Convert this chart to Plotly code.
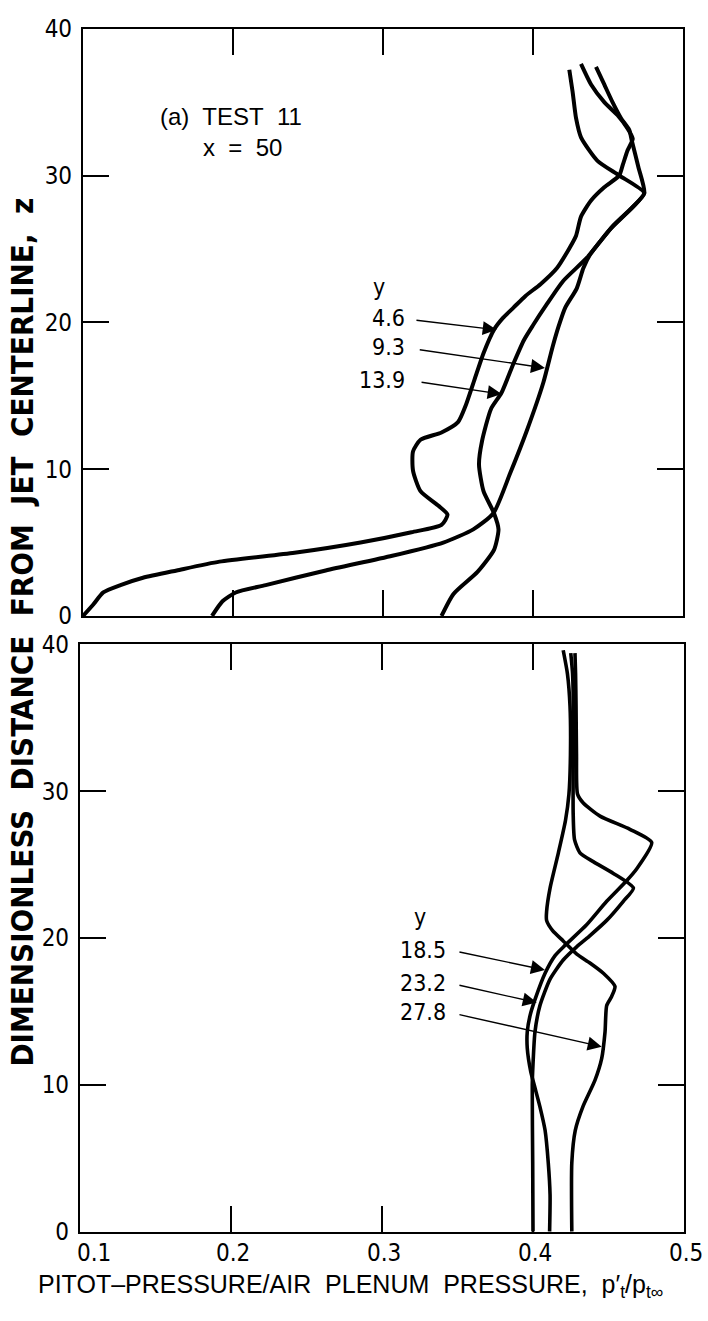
import plotly.graph_objects as go

W, H = 708, 1321
FONT = "DejaVu Sans Condensed, DejaVu Sans, sans-serif"
FONT_WIDE = "Liberation Sans, Arial, Helvetica, sans-serif"

# ---- (a) TEST 11, x = 50 : upper panel profiles ----
top_y_labels = ["4.6", "9.3", "13.9"]

p_46 = [0.100, 0.107, 0.1135, 0.125, 0.140, 0.1625, 0.191, 0.241, 0.285, 0.319, 0.339, 0.343,
        0.337, 0.325, 0.320, 0.320, 0.325, 0.339, 0.350, 0.355, 0.361, 0.367, 0.374, 0.380,
        0.387, 0.395, 0.405, 0.416, 0.424, 0.4287, 0.432, 0.4387, 0.4475, 0.4575, 0.4598,
        0.463, 0.4665, 0.463, 0.4564, 0.4475, 0.4387, 0.432]
z_46 = [0.0, 0.8, 1.6, 2.1, 2.6, 3.1, 3.7, 4.3, 5.0, 5.7, 6.2, 6.9,
        7.5, 8.5, 9.9, 11.2, 12.0, 12.5, 13.2, 14.3, 16.1, 17.9, 19.5, 20.3,
        21.0, 21.8, 22.6, 23.7, 25.0, 25.9, 27.2, 28.3, 29.2, 30.0, 30.7,
        31.7, 32.5, 33.2, 34.1, 35.0, 36.2, 37.6]

p_93 = [0.186, 0.193, 0.2018, 0.2218, 0.2618, 0.3062, 0.3402, 0.3602, 0.3736, 0.3847, 0.3958,
        0.4069, 0.413, 0.417, 0.4215, 0.4291, 0.4336, 0.438, 0.4536, 0.4669, 0.4742, 0.4702,
        0.4658, 0.4642, 0.4587, 0.453, 0.4475, 0.442]
z_93 = [0.0, 1.0, 1.6, 2.1, 3.1, 4.1, 5.0, 5.9, 7.0, 9.7, 12.6,
        15.9, 18.3, 19.7, 21.0, 22.3, 23.7, 24.6, 26.6, 27.9, 28.8, 30.6,
        32.4, 33.1, 33.9, 35.0, 36.2, 37.4]

p_139 = [0.339, 0.347, 0.363, 0.374, 0.377, 0.374, 0.367, 0.364, 0.366, 0.372, 0.379, 0.387,
         0.394, 0.400, 0.409, 0.420, 0.436, 0.452, 0.466, 0.4742, 0.4575, 0.443, 0.432,
         0.4287, 0.4264, 0.4242]
z_139 = [0.0, 1.5, 3.0, 4.5, 5.9, 7.0, 8.5, 10.3, 11.9, 14.1, 15.2, 17.2,
         18.8, 19.8, 21.2, 22.8, 24.4, 26.4, 27.8, 28.8, 30.0, 31.0, 32.6,
         33.9, 35.7, 37.2]

# ---- lower panel profiles ----
bot_y_labels = ["18.5", "23.2", "27.8"]

p_185 = [0.411, 0.4113, 0.4101, 0.408, 0.4046, 0.4013, 0.3985, 0.3962, 0.3962, 0.398, 0.4013,
         0.408, 0.4146, 0.4212, 0.4355, 0.4488, 0.462, 0.4686, 0.4786, 0.4642, 0.4444, 0.4333,
         0.4295, 0.4288, 0.4285, 0.4282, 0.4278]
z_185 = [0.0, 2.5, 4.7, 6.9, 8.5, 9.8, 10.9, 12.5, 13.6, 14.7, 15.8,
         17.6, 18.8, 19.5, 20.9, 22.5, 23.9, 24.7, 26.5, 27.4, 28.3, 29.2,
         29.8, 32.5, 35.8, 38.0, 39.4]

p_232 = [0.400, 0.3998, 0.3995, 0.400, 0.4013, 0.4046, 0.4113, 0.420, 0.4289, 0.437, 0.4488,
         0.4598, 0.4665, 0.4532, 0.4399, 0.4311, 0.4275, 0.4266, 0.4266, 0.4268, 0.4262, 0.425]
z_232 = [0.0, 4.7, 10.0, 11.4, 13.6, 15.4, 17.2, 18.5, 19.4, 20.1, 21.2,
         22.5, 23.4, 24.4, 25.2, 25.8, 26.7, 28.5, 31.4, 34.7, 38.0, 39.4]

p_278 = [0.4257, 0.4257, 0.428, 0.433, 0.441, 0.4455, 0.4477, 0.4488, 0.452, 0.4543, 0.4466,
         0.4377, 0.429, 0.420, 0.413, 0.409, 0.409, 0.4113, 0.4168, 0.4215, 0.4238, 0.4248,
         0.4245, 0.4228, 0.420]
z_278 = [0.0, 4.7, 6.9, 8.5, 10.3, 11.8, 13.6, 15.4, 16.0, 16.7, 17.6,
         18.3, 18.9, 19.8, 20.5, 21.2, 21.8, 23.4, 25.8, 28.0, 29.8, 32.5,
         35.8, 38.0, 39.6]

x_ticks = [0.1, 0.2, 0.3, 0.4, 0.5]
x_tick_text = ["0.1", "0.2", "0.3", "0.4", "0.5"]
z_ticks = [0, 10, 20, 30, 40]

# label arrows: (tail p, tail z, head p, head z)
top_arrows = [(0.3213, 20.15, 0.3758, 19.49),
              (0.3235, 18.15, 0.4080, 16.89),
              (0.3247, 15.93, 0.3791, 15.11)]
bot_arrows = [(0.3503, 19.07, 0.4079, 17.82),
              (0.3503, 16.80, 0.4025, 15.60),
              (0.3503, 14.80, 0.4455, 12.60)]


def px(xp):
    return xp / W


def py(yp):
    return 1 - yp / H


fig = go.Figure()

curve_line = dict(color="black", width=4, shape="spline", smoothing=0.6)
for p, z in [(p_46, z_46), (p_93, z_93), (p_139, z_139)]:
    fig.add_trace(go.Scatter(x=p, y=z, mode="lines", line=curve_line,
                             xaxis="x", yaxis="y", showlegend=False, hoverinfo="skip"))
for p, z in [(p_185, z_185), (p_232, z_232), (p_278, z_278)]:
    fig.add_trace(go.Scatter(x=p, y=z, mode="lines", line=dict(curve_line, width=3.6),
                             xaxis="x2", yaxis="y2", showlegend=False, hoverinfo="skip"))

axis_style = dict(showline=True, linewidth=2.2, linecolor="black", mirror="allticks",
                  ticks="inside", ticklen=26, tickwidth=1.6, tickcolor="black",
                  showgrid=False, zeroline=False, fixedrange=True)

fig.update_layout(
    width=W, height=H,
    margin=dict(l=0, r=0, t=0, b=0),
    paper_bgcolor="white", plot_bgcolor="white",
    font=dict(family=FONT, color="black", size=22),
    xaxis=dict(axis_style, domain=[px(83), px(683)], range=[0.1, 0.5], tickvals=x_ticks,
               showticklabels=False, anchor="y"),
    yaxis=dict(axis_style, domain=[py(615), py(15)], range=[0, 40], tickvals=z_ticks,
               ticklabelstandoff=4, tickfont=dict(size=24), anchor="x"),
    xaxis2=dict(axis_style, domain=[px(80), px(684)], range=[0.1, 0.5], tickvals=x_ticks,
                showticklabels=False, anchor="y2"),
    yaxis2=dict(axis_style, domain=[py(1244), py(644)], range=[0, 40], tickvals=z_ticks,
                ticklabelstandoff=4, tickfont=dict(size=24), anchor="x2"),
)

ann = []
# bottom x tick labels
for v, t in zip(x_ticks, x_tick_text):
    ann.append(dict(x=v, y=0, xref="x2", yref="y2", text=t, showarrow=False,
                    xanchor="center", yanchor="top", yshift=-5,
                    xshift=14 if v == 0.1 else 2, font=dict(size=24)))

# panel caption
ann.append(dict(x=0.150, y=34.0, xref="x", yref="y", text="(a)\u00a0 TEST\u00a0 11",
                showarrow=False, xanchor="left", yanchor="middle",
                font=dict(size=24, family=FONT_WIDE)))
ann.append(dict(x=0.1787, y=31.9, xref="x", yref="y", text="x\u00a0 =\u00a0 50",
                showarrow=False, xanchor="left", yanchor="middle",
                font=dict(size=24, family=FONT_WIDE)))

# upper labels
ann.append(dict(x=0.2973, y=22.4, xref="x", yref="y", text="y", showarrow=False,
                xanchor="center", yanchor="middle", font=dict(size=23)))
for lab, (tx, tz, hx, hz), ly in zip(top_y_labels, top_arrows, [20.3, 18.3, 16.1]):
    ann.append(dict(x=0.3160, y=ly, xref="x", yref="y", text=lab, showarrow=False,
                    xanchor="right", yanchor="middle", font=dict(size=23)))
    ann.append(dict(x=hx, y=hz, ax=tx, ay=tz, xref="x", yref="y", axref="x", ayref="y",
                    text="", showarrow=True, arrowhead=2, arrowsize=2.0, arrowwidth=1.4,
                    arrowcolor="black"))

# lower labels
ann.append(dict(x=0.3252, y=21.4, xref="x2", yref="y2", text="y", showarrow=False,
                xanchor="center", yanchor="middle", font=dict(size=23)))
for lab, (tx, tz, hx, hz), ly in zip(bot_y_labels, bot_arrows, [19.2, 16.95, 14.95]):
    ann.append(dict(x=0.3440, y=ly, xref="x2", yref="y2", text=lab, showarrow=False,
                    xanchor="right", yanchor="middle", font=dict(size=23)))
    ann.append(dict(x=hx, y=hz, ax=tx, ay=tz, xref="x2", yref="y2", axref="x2", ayref="y2",
                    text="", showarrow=True, arrowhead=2, arrowsize=2.0, arrowwidth=1.4,
                    arrowcolor="black"))

# axis titles
ann.append(dict(x=px(22), y=py(632), xref="paper", yref="paper",
                text="DIMENSIONLESS\u00a0 DISTANCE\u00a0 FROM\u00a0 JET\u00a0 CENTERLINE,\u00a0 z",
                textangle=-90, showarrow=False, xanchor="center", yanchor="middle",
                font=dict(size=31, family=FONT, weight="bold")))
ann.append(dict(x=px(350), y=py(1300), xref="paper", yref="paper",
                text="PITOT\u2013PRESSURE/AIR\u00a0 PLENUM\u00a0 PRESSURE,\u00a0 p\u2032<sub>t</sub>/p<sub>t\u221e</sub>",
                showarrow=False, xanchor="center", yanchor="middle",
                font=dict(size=25, family=FONT_WIDE)))

fig.update_layout(annotations=ann)
fig.write_html("out.html")
